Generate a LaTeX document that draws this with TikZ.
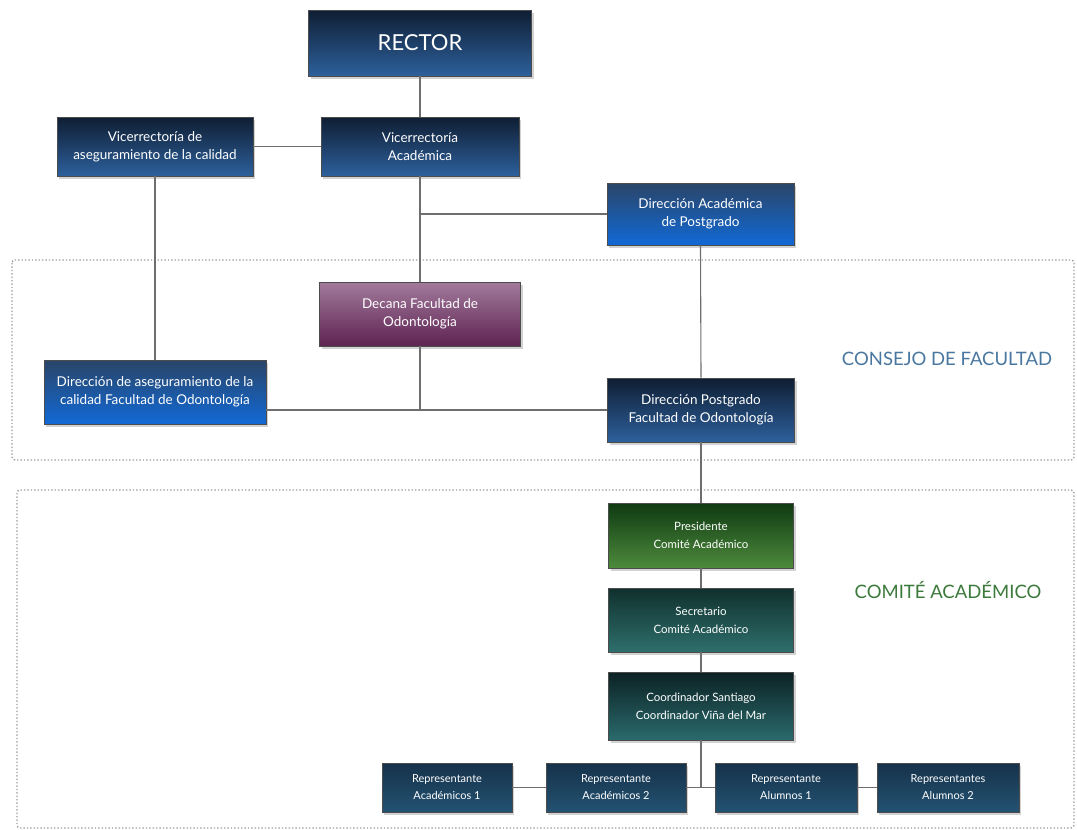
\documentclass[tikz,border=0pt]{standalone}
\usepackage{fontspec}
\setmainfont{Lato}
\usetikzlibrary{shadows}
\definecolor{navyD}{HTML}{0F1E33}
\definecolor{navyB}{HTML}{2D609C}
\definecolor{bluD}{HTML}{2A4568}
\definecolor{bluB}{HTML}{1169D6}
\definecolor{purD}{HTML}{A27A9C}
\definecolor{purB}{HTML}{5E2352}
\definecolor{grnD}{HTML}{0F3A12}
\definecolor{grnB}{HTML}{4D8A3C}
\definecolor{secD}{HTML}{10302D}
\definecolor{secB}{HTML}{2E6F6C}
\definecolor{corD}{HTML}{0C2224}
\definecolor{corB}{HTML}{2A6A6C}
\definecolor{repD}{HTML}{16324A}
\definecolor{repB}{HTML}{235272}
\definecolor{linegray}{HTML}{6E6E6E}
\definecolor{consejo}{HTML}{4A77A0}
\definecolor{comite}{HTML}{3B7A3B}
\tikzset{
  orgbox/.style={draw=black!70, line width=0.6pt, text=white, align=center,
    font=\fontsize{13.5}{18}\selectfont, inner sep=2pt,
    drop shadow={opacity=0.35, shadow xshift=2pt, shadow yshift=-3pt}},
  smalltext/.style={font=\fontsize{11.5}{18}\selectfont},
  navybox/.style={orgbox, top color=navyD, bottom color=navyB},
  bluebox/.style={orgbox, top color=bluD, bottom color=bluB},
  purplebox/.style={orgbox, top color=purD, bottom color=purB},
  greenbox/.style={orgbox, smalltext, top color=grnD, bottom color=grnB},
  secbox/.style={orgbox, smalltext, top color=secD, bottom color=secB},
  corbox/.style={orgbox, smalltext, top color=corD, bottom color=corB},
  repbox/.style={orgbox, top color=repD, bottom color=repB, font=\fontsize{11}{17}\selectfont},
  conn/.style={draw=linegray, line width=1.1pt},
  group/.style={draw=gray!75, dotted, line width=1.4pt, rounded corners=3pt},
  grouplabel/.style={font=\fontsize{18.5}{22}\selectfont},
}
\begin{document}
\begin{tikzpicture}[x=1pt,y=-1pt]
\useasboundingbox (0,0) rectangle (1077,830);
\fill[white] (0,0) rectangle (1077,830);
% groups
\draw[group] (12,260) rectangle (1074,460);
\draw[group] (17,490) rectangle (1074,828);
% junction points
\coordinate (jdap) at (420,214);
\coordinate (jdpf) at (420,410);
\coordinate (jdac) at (266,410);
\coordinate (jrep) at (701,787.5);
% boxes
\node[navybox, minimum width=223pt, minimum height=66pt, font=\fontsize{22}{26}\selectfont] (rector) at (420,43) {RECTOR};
\node[navybox, minimum width=196pt, minimum height=59pt] (vac) at (155,146.5) {Vicerrectoría de\\aseguramiento de la calidad};
\node[navybox, minimum width=198pt, minimum height=59pt] (va) at (420,146.5) {Vicerrectoría\\Académica};
\node[bluebox, minimum width=187pt, minimum height=62pt] (dap) at (700.5,214) {Dirección Académica\\de Postgrado};
\node[purplebox, minimum width=201pt, minimum height=64pt] (decana) at (420,314) {Decana Facultad de\\Odontología};
\node[bluebox, minimum width=222pt, minimum height=64pt] (dac) at (155,392) {Dirección de aseguramiento de la\\calidad Facultad de Odontología};
\node[navybox, minimum width=187pt, minimum height=64pt] (dpf) at (701,410) {Dirección Postgrado\\Facultad de Odontología};
\node[greenbox, minimum width=185pt, minimum height=65pt] (pres) at (701,535.5) {Presidente\\Comité Académico};
\node[secbox, minimum width=185pt, minimum height=64pt] (secr) at (701,620) {Secretario\\Comité Académico};
\node[corbox, minimum width=185pt, minimum height=68pt] (coord) at (701,706) {Coordinador Santiago\\Coordinador Viña del Mar};
\node[repbox, minimum width=130pt, minimum height=49pt] (r1) at (447,787.5) {Representante\\Académicos 1};
\node[repbox, minimum width=140pt, minimum height=49pt] (r2) at (616,787.5) {Representante\\Académicos 2};
\node[repbox, minimum width=142pt, minimum height=49pt] (r3) at (786,787.5) {Representante\\Alumnos 1};
\node[repbox, minimum width=142pt, minimum height=49pt] (r4) at (948,787.5) {Representantes\\Alumnos 2};
% labels
\node[grouplabel, text=consejo] (lcons) at (947,359) {CONSEJO DE FACULTAD};
\node[grouplabel, text=comite] (lcom) at (948,590) {COMITÉ ACADÉMICO};
% connectors
\draw[conn] (rector.south) -- (va.north);
\draw[conn] (vac.east) -- (va.west);
\draw[conn] (vac.south) -- (dac.north);
\draw[conn] (va.south) -- (decana.north);
\draw[conn] (jdap) -- (dap.west);
\draw[conn] (decana.south) -- (jdpf);
\draw[conn] (dac.east |- jdac) -- (dpf.west);
\draw[conn] (dap.south) -- (dpf.north);
\draw[conn] (dpf.south) -- (pres.north);
\draw[conn] (pres.south) -- (secr.north);
\draw[conn] (secr.south) -- (coord.north);
\draw[conn] (coord.south) -- (jrep);
\draw[conn] (r1.east) -- (r2.west);
\draw[conn] (r2.east) -- (r3.west);
\draw[conn] (r3.east) -- (r4.west);
\end{tikzpicture}
\end{document}
